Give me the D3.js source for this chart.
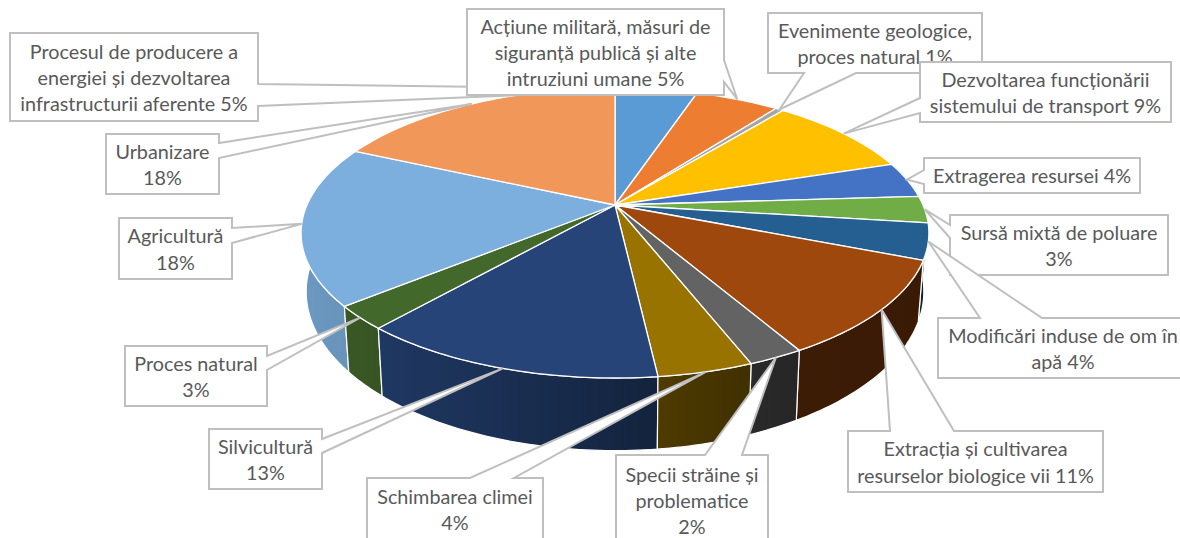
<!DOCTYPE html>
<html>
<head>
<meta charset="utf-8">
<script src="https://cdn.jsdelivr.net/npm/d3@7"></script>
<style>
    body { margin: 0; background: #fff; }
    svg { display: block; }
    text { font-family: Lato, "Noto Sans", sans-serif; font-size: 19.8px; fill: #595959; }
</style>
</head>
<body>
<div id="chart"></div>
<script>
// 3D PIE CHART WITH CALLOUTS

// Data

var categories = [
    "Procesul de producere a energiei și dezvoltarea infrastructurii aferente",
    "Acțiune militară, măsuri de siguranță publică și alte intruziuni umane",
    "Evenimente geologice, proces natural",
    "Dezvoltarea funcționării sistemului de transport",
    "Extragerea resursei",
    "Sursă mixtă de poluare",
    "Modificări induse de om în apă",
    "Extracția și cultivarea resurselor biologice vii",
    "Specii străine și problematice",
    "Schimbarea climei",
    "Silvicultură",
    "Proces natural",
    "Agricultură",
    "Urbanizare"
];

// Shares; the labels show them rounded

var values = [5.1, 5.2, 0.5, 9.2, 4, 3, 4, 10.7, 2.4, 4.1, 13.2, 2.6, 17.8, 18.2];
var labelLines = [
    ["Procesul de producere a", "energiei și dezvoltarea", "infrastructurii aferente"],
    ["Acțiune militară, măsuri de", "siguranță publică și alte", "intruziuni umane"],
    ["Evenimente geologice,", "proces natural"],
    ["Dezvoltarea funcționării", "sistemului de transport"],
    ["Extragerea resursei"],
    ["Sursă mixtă de poluare", ""],
    ["Modificări induse de om în", "apă"],
    ["Extracția și cultivarea", "resurselor biologice vii"],
    ["Specii străine și", "problematice", ""],
    ["Schimbarea climei", ""],
    ["Silvicultură", ""],
    ["Proces natural", ""],
    ["Agricultură", ""],
    ["Urbanizare", ""]
];

// Office palette

var colors = ["#5B9BD5", "#ED7D31", "#A5A5A5", "#FFC000", "#4472C4", "#70AD47", "#255E91",
              "#9E480E", "#636363", "#997300", "#264478", "#43682B", "#7CAFDD", "#F1975A"];

// Callout boxes: x, y, width, height, the side the pointer leaves from, and where on that side

var boxes = [
    {x: 10,  y: 33,  w: 248, h: 88, side: "right",  a: 84,  b: 106},
    {x: 467, y: 9,   w: 257, h: 86, side: "right",  a: 60,  b: 82},
    {x: 768, y: 13,  w: 214, h: 60, side: "bottom", a: 804, b: 856},
    {x: 920, y: 62,  w: 251, h: 60, side: "left",   a: 98,  b: 113},
    {x: 924, y: 158, w: 216, h: 35, side: "left",   a: 170, b: 184},
    {x: 950, y: 215, w: 218, h: 60, side: "left",   a: 225, b: 238},
    {x: 938, y: 318, w: 250, h: 60, side: "top",    a: 980, b: 1042},
    {x: 848, y: 431, w: 255, h: 61, side: "top",    a: 890, b: 954},
    {x: 616, y: 455, w: 152, h: 90, side: "top",    a: 705, b: 742},
    {x: 367, y: 478, w: 176, h: 62, side: "top",    a: 470, b: 514},
    {x: 209, y: 429, w: 113, h: 60, side: "right",  a: 439, b: 453},
    {x: 125, y: 346, w: 142, h: 60, side: "right",  a: 356, b: 370},
    {x: 119, y: 218, w: 113, h: 61, side: "right",  a: 228, b: 243},
    {x: 106, y: 134, w: 113, h: 60, side: "right",  a: 143, b: 158}
];

// Chart variables

var width = 1180;
var height = 538;
var lineHeight = 26.2;

// Perspective of the disc: top rim and bottom rim

var persp = 0.193;
var topRim = {cx: 615, cy: 205, rx: 308, ry: 139.6};
var bottomRim = {cx: 615, cy: 261, rx: 303, ry: 153};

function project(angle, rim) {
    var u = Math.sin(angle);
    var v = Math.cos(angle);
    var w = 1 + persp * v;
    return [rim.cx + rim.rx * u / w, rim.cy - rim.ry * v / w];
}

function rimPoints(start, end, rim) {
    var n = Math.max(2, Math.ceil((end - start) / (Math.PI / 180)));
    return d3.range(n + 1).map(function(i) {
        return project(start + (end - start) * i / n, rim);
    });
}

// Side walls are lit from the left

var shade = d3.scaleLinear()
              .domain([305, 380, 650, 700, 800, 930])
              .range([0.87, 0.82, 0.52, 0.46, 0.38, 0.36]);

function shaded(color, x) {
    var c = d3.rgb(color);
    var k = shade(x);
    return d3.rgb(c.r * k, c.g * k, c.b * k).formatHex();
}

var pie = d3.pie().sort(null).value(function(d) { return d; });
var arcs = pie(values);
var line = d3.line();

var svg = d3.select("#chart")
            .append("svg")
            .attr("width", width)
            .attr("height", height);

var defs = svg.append("defs");

// Creating the side walls, back to front

var walls = arcs.map(function(d, i) {
    var top = rimPoints(d.startAngle, d.endAngle, topRim);
    var bottom = rimPoints(d.startAngle, d.endAngle, bottomRim).reverse();
    return {i: i, points: top.concat(bottom), depth: Math.cos((d.startAngle + d.endAngle) / 2)};
}).sort(function(a, b) { return b.depth - a.depth; });

walls.forEach(function(d) {
    var ext = d3.extent(d.points, function(p) { return p[0]; });
    var grad = defs.append("linearGradient")
                   .attr("id", "wall" + d.i)
                   .attr("gradientUnits", "userSpaceOnUse")
                   .attr("x1", ext[0]).attr("x2", ext[1])
                   .attr("y1", 0).attr("y2", 0);
    grad.append("stop").attr("offset", 0).attr("stop-color", shaded(colors[d.i], ext[0]));
    grad.append("stop").attr("offset", 1).attr("stop-color", shaded(colors[d.i], ext[1]));

    svg.append("path")
       .attr("d", line(d.points) + "Z")
       .attr("fill", "url(#wall" + d.i + ")")
       .attr("stroke", "#fff")
       .attr("stroke-width", 1.2)
       .attr("stroke-linejoin", "round");
});

// Creating the top of the pie

svg.append("g")
   .selectAll("path")
   .data(arcs)
   .enter()
   .append("path")
   .attr("d", function(d) {
       return line([[topRim.cx, topRim.cy]].concat(rimPoints(d.startAngle, d.endAngle, topRim))) + "Z";
   })
   .attr("fill", function(d, i) { return colors[i]; })
   .attr("stroke", "#fff")
   .attr("stroke-width", 1.3)
   .attr("stroke-linejoin", "round");

// Callout outline: the box with a wedge out to the slice's rim

function calloutPath(b, tip) {
    var x0 = b.x, x1 = b.x + b.w, y0 = b.y, y1 = b.y + b.h;
    var pts = [[x0, y0]];
    if (b.side == "top") pts.push([b.a, y0], tip, [b.b, y0]);
    pts.push([x1, y0]);
    if (b.side == "right") pts.push([x1, b.a], tip, [x1, b.b]);
    pts.push([x1, y1]);
    if (b.side == "bottom") pts.push([b.b, y1], tip, [b.a, y1]);
    pts.push([x0, y1]);
    if (b.side == "left") pts.push([x0, b.b], tip, [x0, b.a]);
    return line(pts) + "Z";
}

// Creating the callouts, in series order so later ones sit on top

arcs.forEach(function(d, i) {
    var b = boxes[i];
    var tip = project((d.startAngle + d.endAngle) / 2, topRim);
    var g = svg.append("g");

    g.append("path")
     .attr("d", calloutPath(b, tip))
     .attr("fill", "#fff")
     .attr("stroke", "#BFBFBF")
     .attr("stroke-width", 2)
     .attr("stroke-linejoin", "miter");

    var lines = labelLines[i].slice();
    var last = lines.length - 1;
    lines[last] = (lines[last] ? lines[last] + " " : "") + Math.round(values[i]) + "%";

    var cy = b.y + b.h / 2;
    lines.forEach(function(t, j) {
        g.append("text")
         .attr("x", b.x + b.w / 2)
         .attr("y", cy + (j - last / 2) * lineHeight + 1)
         .attr("dy", "0.35em")
         .attr("text-anchor", "middle")
         .text(t);
    });
});
</script>
</body>
</html>
